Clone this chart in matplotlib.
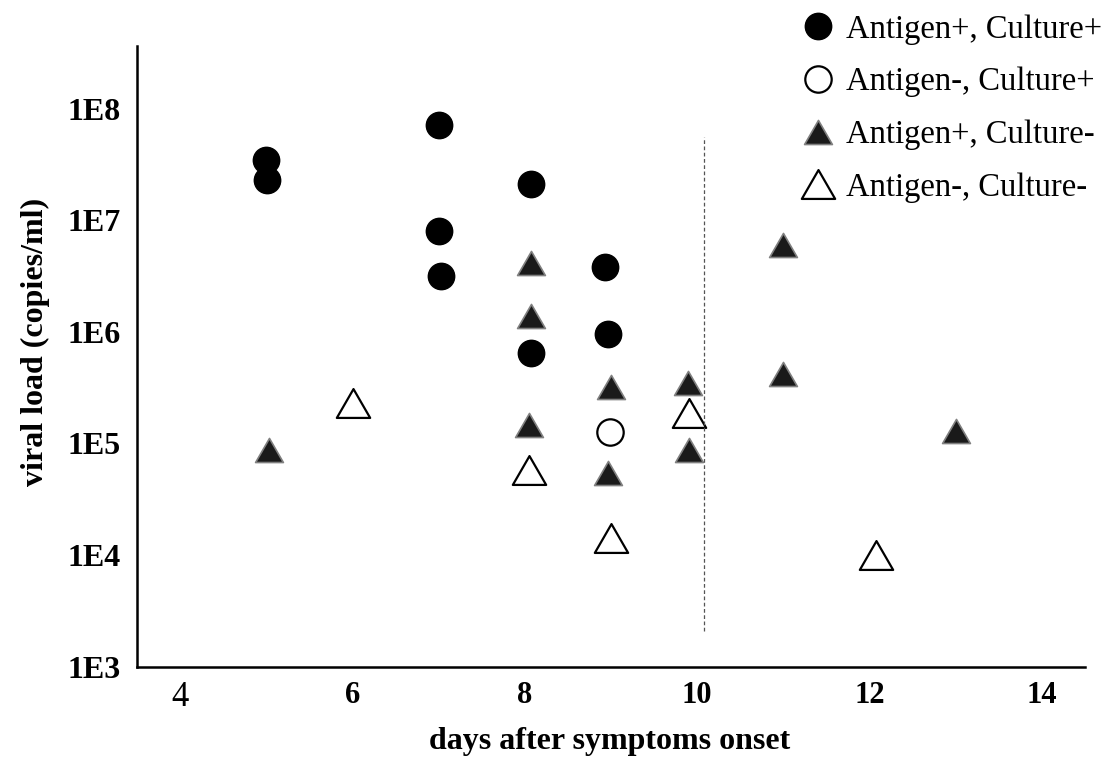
import matplotlib
matplotlib.use('Agg')
import matplotlib.pyplot as plt
from matplotlib.path import Path

plt.rcParams['font.family'] = ['Liberation Serif', 'DejaVu Serif']

# days after onset / viral load (copies/ml)
ag_pos_cu_pos_x = [4.99, 5.01, 7.0, 7.0, 7.03, 8.07, 8.07, 8.93, 8.96]
ag_pos_cu_pos_y = [3.5e7, 2.3e7, 7.1e7, 8.1e6, 3.2e6, 2.1e7, 6.5e5, 3.8e6, 9.5e5]

ag_neg_cu_pos_x = [8.99]
ag_neg_cu_pos_y = [1.28e5]

ag_pos_cu_neg_x = [5.03, 8.07, 8.07, 8.05, 9.0, 8.96, 9.89, 9.91, 10.99, 11.0, 13.0]
ag_pos_cu_neg_y = [8.7e4, 4.1e6, 1.38e6, 1.47e5, 3.2e5, 5.4e4, 3.5e5, 8.7e4, 6.0e6, 4.2e5, 1.3e5]

ag_neg_cu_neg_x = [6.01, 8.05, 9.0, 9.91, 12.08]
ag_neg_cu_neg_y = [2.3e5, 5.8e4, 1.43e4, 1.89e5, 1.0e4]

cutoff_day = 10.08
cutoff_span = [2.1e3, 5.6e7]

x_ticks = [4, 6, 8, 10, 12, 14]
y_ticks = [1e3, 1e4, 1e5, 1e6, 1e7, 1e8]
y_tick_labels = ['1E3', '1E4', '1E5', '1E6', '1E7', '1E8']

legend_labels = ['Antigen+, Culture+', 'Antigen-, Culture+',
                 'Antigen+, Culture-', 'Antigen-, Culture-']

# equilateral triangle marker
tri = Path([(-1, -0.866), (1, -0.866), (0, 0.866), (-1, -0.866)],
           [Path.MOVETO, Path.LINETO, Path.LINETO, Path.CLOSEPOLY])

fig = plt.figure(figsize=(11.06, 7.61), dpi=100)
ax = fig.add_axes([0.124, 0.124, 0.857, 0.816])

h1, = ax.plot(ag_pos_cu_pos_x, ag_pos_cu_pos_y, 'o', ms=19, color='black', ls='none')
h2, = ax.plot(ag_neg_cu_pos_x, ag_neg_cu_pos_y, 'o', ms=19, mfc='white', mec='black', mew=1.6, ls='none')
h3, = ax.plot(ag_pos_cu_neg_x, ag_pos_cu_neg_y, marker=tri, ms=20, mfc='#1a1a1a', mec='#808080', mew=1.2, ls='none')
h4, = ax.plot(ag_neg_cu_neg_x, ag_neg_cu_neg_y, marker=tri, ms=24, mfc='white', mec='black', mew=1.6, ls='none')

ax.plot([cutoff_day, cutoff_day], cutoff_span, color='#555555', lw=0.9, ls=(0, (3, 2)))

ax.set_yscale('log')
ax.set_xlim(3.5, 14.5)
ax.set_ylim(1e3, 10 ** 8.565)

ax.spines['top'].set_visible(False)
ax.spines['right'].set_visible(False)
ax.spines['left'].set_linewidth(1.8)
ax.spines['bottom'].set_linewidth(1.8)

ax.set_yticks(y_ticks)
ax.set_yticklabels(y_tick_labels, fontsize=23, fontweight='bold')
ax.yaxis.set_minor_locator(matplotlib.ticker.NullLocator())
ax.set_xticks(x_ticks)
ax.set_xticklabels([str(t) for t in x_ticks], fontsize=22, fontweight='bold')
ax.get_xticklabels()[0].set_fontweight('normal')
ax.get_xticklabels()[0].set_fontsize(25)
ax.tick_params(axis='both', length=0)
ax.tick_params(axis='y', pad=12)
ax.tick_params(axis='x', pad=10)

ax.set_xlabel('days after symptoms onset', fontsize=23, fontweight='bold')
ax.set_ylabel('viral load (copies/ml)', fontsize=23, fontweight='bold')
ax.xaxis.set_label_coords(0.498, -0.098)
ax.yaxis.set_label_coords(-0.092, 0.523)

fig.legend([h1, h2, h3, h4], legend_labels, loc='upper right',
           bbox_to_anchor=(1.014, 1.007), frameon=False, fontsize=23.5,
           handlelength=1.0, handletextpad=0.35, labelspacing=0.68,
           borderaxespad=0.2, markerscale=1.0)

fig.savefig('out.png', dpi=100)
